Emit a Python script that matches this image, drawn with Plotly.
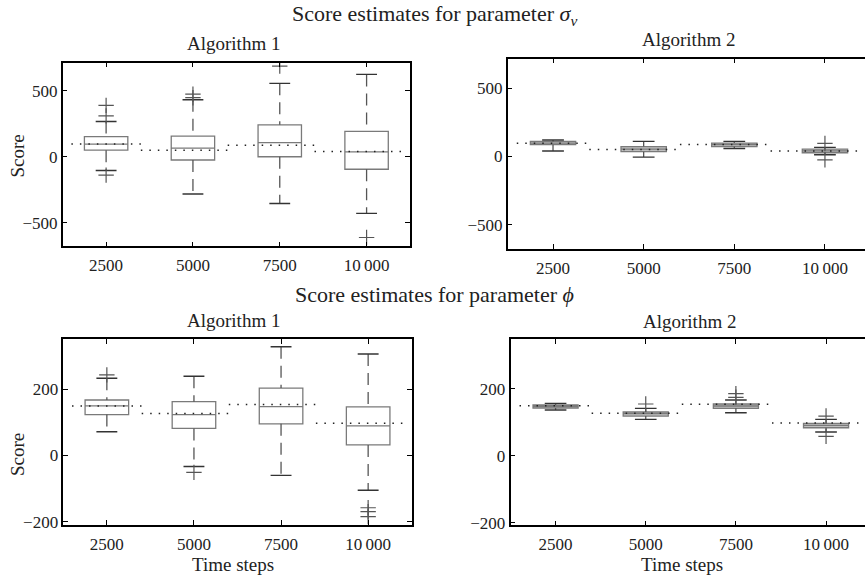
import plotly.graph_objects as go

W, H = 865, 582

# ---------------- data ----------------
positions = [2500, 5000, 7500, 10000]
tick_text = ["2500", "5000", "7500", "10\u2009000"]
box_width = 1250
cap_half = 300

# sigma_v, Algorithm 1
sig1_lo = [-105, -283, -355, -430]
sig1_q1 = [50, -25, 0, -95]
sig1_med = [95, 65, 107, 37]
sig1_q3 = [152, 157, 242, 192]
sig1_hi = [267, 432, 557, 625]
sig1_out = [[310, 390, -140], [448, 475], [688], [-613]]

# sigma_v, Algorithm 2
sig2_lo = [40, -5, 58, 12]
sig2_q1 = [86, 35, 72, 27]
sig2_med = [97, 53, 86, 41]
sig2_q3 = [110, 72, 98, 53]
sig2_hi = [120, 110, 110, 66]
sig2_out = [[], [], [], [95, -25]]

sig_truth = [96, 50, 88, 40]

# phi, Algorithm 1
phi1_lo = [72, -33, -60, -105]
phi1_q1 = [124, 82, 96, 32]
phi1_med = [150, 124, 148, 90]
phi1_q3 = [168, 163, 204, 147]
phi1_hi = [234, 240, 329, 307]
phi1_out = [[244], [-51], [], [-158, -170, -185]]

# phi, Algorithm 2
phi2_lo = [137, 109, 129, 71]
phi2_q1 = [143, 119, 142, 84]
phi2_med = [148, 126, 149, 91]
phi2_q3 = [152, 131, 155, 97]
phi2_hi = [157, 142, 167, 109]
phi2_out = [[], [155], [175, 186], [119, 58]]

phi_truth = [150, 127, 154, 98]
truth_left = [1000, 1500, 1500, 1500]
truth_right = 1000

FONT = "Liberation Serif, Times New Roman, serif"
fig = go.Figure()


def add_panel(xa, ya, lo, q1, med, q3, hi, outs, truth, fill):
    fig.add_trace(go.Box(
        x=positions, q1=q1, median=med, q3=q3, lowerfence=q1, upperfence=q3,
        width=box_width, whiskerwidth=0, fillcolor=fill,
        line=dict(color="#7a7a7a", width=1.3), boxpoints=False,
        xaxis=xa, yaxis=ya, showlegend=False, hoverinfo="skip"))
    wx, wy, cx, cy = [], [], [], []
    for p, a, b, c, d in zip(positions, lo, q1, q3, hi):
        wx += [p, p, None, p, p, None]
        wy += [d, c, None, b, a, None]
        cx += [p - cap_half, p + cap_half, None, p - cap_half, p + cap_half, None]
        cy += [d, d, None, a, a, None]
    fig.add_trace(go.Scatter(x=wx, y=wy, mode="lines", xaxis=xa, yaxis=ya,
                             line=dict(color="#555555", width=1.3, dash="12px,7px"),
                             showlegend=False, hoverinfo="skip"))
    fig.add_trace(go.Scatter(x=cx, y=cy, mode="lines", xaxis=xa, yaxis=ya,
                             line=dict(color="#333333", width=1.4),
                             showlegend=False, hoverinfo="skip"))
    tx, ty = [], []
    for p, t, l in zip(positions, truth, truth_left):
        tx += [p - l, p + truth_right, None]
        ty += [t, t, None]
    fig.add_trace(go.Scatter(x=tx, y=ty, mode="lines", xaxis=xa, yaxis=ya,
                             line=dict(color="#222222", width=1.5, dash="1.5px,7px"),
                             showlegend=False, hoverinfo="skip"))
    ox, oy = [], []
    for p, o in zip(positions, outs):
        ox += [p] * len(o)
        oy += o
    fig.add_trace(go.Scatter(x=ox, y=oy, mode="markers", xaxis=xa, yaxis=ya,
                             marker=dict(symbol="cross-thin", size=11,
                                         line=dict(width=1.2, color="#555555")),
                             showlegend=False, hoverinfo="skip"))


add_panel("x", "y", sig1_lo, sig1_q1, sig1_med, sig1_q3, sig1_hi, sig1_out, sig_truth, "rgba(0,0,0,0)")
add_panel("x2", "y2", sig2_lo, sig2_q1, sig2_med, sig2_q3, sig2_hi, sig2_out, sig_truth, "rgba(130,130,130,0.5)")
add_panel("x3", "y3", phi1_lo, phi1_q1, phi1_med, phi1_q3, phi1_hi, phi1_out, phi_truth, "rgba(0,0,0,0)")
add_panel("x4", "y4", phi2_lo, phi2_q1, phi2_med, phi2_q3, phi2_hi, phi2_out, phi_truth, "rgba(130,130,130,0.5)")


def px_x(v):
    return v / W


def px_y(v):
    return 1 - v / H


def xcfg(domain, rng, anchor):
    return dict(domain=domain, range=rng, anchor=anchor, tickvals=positions,
                ticktext=tick_text, ticks="inside", ticklen=5, tickcolor="#000",
                tickwidth=1, showline=True, linecolor="#000", linewidth=1.5,
                mirror="ticks", showgrid=False, zeroline=False,
                ticklabelstandoff=3,
                tickfont=dict(family=FONT, size=17, color="#222"))


def ycfg(domain, rng, anchor, tickvals, mirror):
    return dict(domain=domain, range=rng, anchor=anchor, tickvals=tickvals,
                ticks="inside", ticklen=5, tickcolor="#000", tickwidth=1,
                showline=True, linecolor="#000", linewidth=1.5,
                mirror=mirror, showgrid=False, zeroline=False,
                tickfont=dict(family=FONT, size=17, color="#222"))


tl_x = [px_x(62.7), px_x(410)]
tl_y = [px_y(249.3), px_y(63.3)]
tr_x = [px_x(507.7), 1.0]
tr_y = [px_y(251.7), px_y(59.3)]
bl_x = [px_x(63.3), px_x(411.7)]
bl_y = [px_y(531), px_y(343.3)]
br_x = [px_x(510.5), 1.0]
br_y = [px_y(531.7), px_y(343.3)]

sig_ticks = [-500, 0, 500]
phi_ticks = [-200, 0, 200]

fig.update_layout(
    width=W, height=H, margin=dict(l=0, r=0, t=0, b=0),
    paper_bgcolor="white", plot_bgcolor="white", showlegend=False,
    xaxis=xcfg(tl_x, [1250, 11250], "y"),
    yaxis=ycfg(tl_y, [-680, 715], "x", sig_ticks, "ticks"),
    xaxis2=xcfg(tr_x, [1250, 11105], "y2"),
    yaxis2=ycfg(tr_y, [-675, 716], "x2", sig_ticks, False),
    xaxis3=xcfg(bl_x, [1250, 11250], "y3"),
    yaxis3=ycfg(bl_y, [-209, 352], "x3", phi_ticks, "ticks"),
    xaxis4=xcfg(br_x, [1250, 11080], "y4"),
    yaxis4=ycfg(br_y, [-208, 349], "x4", phi_ticks, False),
)


def ann(text, x, y, size, angle=0):
    fig.add_annotation(text=text, x=px_x(x), y=px_y(y), xref="paper", yref="paper",
                       showarrow=False, textangle=angle, xanchor="center", yanchor="middle",
                       borderpad=0,
                       font=dict(family=FONT, size=size, color="#222"))


ann("Score estimates for parameter <i>σ</i><sub><i>v</i></sub>", 434, 15, 22)
ann("Score estimates for parameter <i>ϕ</i>", 434, 298, 22)
ann("Algorithm 1", 234, 44, 19)
ann("Algorithm 2", 688, 40, 19)
ann("Algorithm 1", 234, 324, 19)
ann("Algorithm 2", 689, 325, 19)
ann("Score", 17.5, 158, 19, -90)
ann("Score", 17.5, 460, 19, -90)
ann("Time steps", 233, 571, 19)
ann("Time steps", 682, 571, 19)

fig.write_html("out.html")
